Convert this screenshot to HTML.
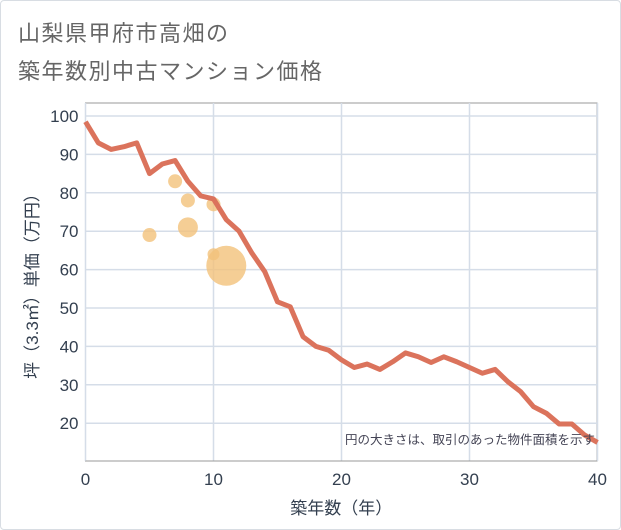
<!DOCTYPE html>
<html><head><meta charset="utf-8"><style>
body{margin:0;background:#fff;}
#wrap{position:relative;width:621px;height:530px;overflow:hidden;font-family:"Liberation Sans","Noto Sans CJK JP",sans-serif;}
#frame{position:absolute;left:0;top:0;width:619px;height:528px;border:1px solid #d8dde3;border-radius:4px;}
.title{position:absolute;left:18px;font-size:22px;color:#666;letter-spacing:1.5px;white-space:nowrap;}
</style></head><body>
<div id="wrap">
<div id="frame"></div>
<div class="title" style="top:16px">山梨県甲府市高畑の</div>
<div class="title" style="top:54px">築年数別中古マンション価格</div>
<svg id="chart" width="621" height="530" style="position:absolute;left:0;top:0"></svg>
</div>
<script>
const lineYears=[0,1,2,3,4,5,6,7,8,9,10,11,12,13,14,15,16,17,18,19,20,21,22,23,24,25,26,27,28,29,30,31,32,33,34,35,36,37,38,39,40];
const linePrices=[98.5,93,91.3,92,93,85,87.5,88.4,83,79.2,78.4,73,70,64.3,59.5,51.6,50.3,42.5,40,39,36.5,34.5,35.4,34,36,38.3,37.3,35.8,37.3,36,34.5,33,34,30.8,28.2,24.3,22.6,19.8,19.8,16.9,15];
const bubbleYears=[5,7,8,8,10,10,11];
const bubblePrices=[69,83,78,71,77,64,61];
const bubbleRadii=[7,7,7,10,7,6,20];
const xTicks=[0,10,20,30,40];
const yTicks=[20,30,40,50,60,70,80,90,100];
const L=85.5,R=597,T=103,B=461;
const X=v=>L+v*12.8;
const Y=v=>116+(100-v)*3.84;
const svg=document.getElementById('chart');
const NS='http://www.w3.org/2000/svg';
function mk(t,a){const e=document.createElementNS(NS,t);for(const k in a)e.setAttribute(k,a[k]);svg.appendChild(e);return e;}
let bg=mk('rect',{x:L,y:T,width:R-L,height:B-T,fill:'#fff',stroke:'#999','stroke-width':1});


yTicks.forEach(v=>{
 const g=mk('line',{x1:L,x2:R,y1:Y(v),y2:Y(v),stroke:'#d5dde8','stroke-width':1.5});
 
 
 const t=mk('text',{x:L-7,y:Y(v)+6,'text-anchor':'end','font-size':17,fill:'#333f4f'});
 t.textContent=v;
 
 
});
xTicks.forEach(v=>{
 const g=mk('line',{x1:X(v),x2:X(v),y1:T,y2:B,stroke:'#d5dde8','stroke-width':1.5});
 
 
 const t=mk('text',{x:X(v),y:B+24,'text-anchor':'middle','font-size':17,fill:'#333f4f'});
 t.textContent=v;
 
 
});
let ax=mk('line',{x1:L,x2:R,y1:B,y2:B,stroke:'#999','stroke-width':1});


bubbleYears.forEach((v,i)=>{
 const c=mk('circle',{cx:X(v),cy:Y(bubblePrices[i]),r:bubbleRadii[i],fill:'#f3c27a','fill-opacity':0.8});
 
 
});
const pl=mk('polyline',{points:lineYears.map((v,i)=>X(v)+','+Y(linePrices[i])).join(' '),fill:'none',stroke:'#db735c','stroke-width':5,'stroke-linejoin':'round'});


const note=mk('text',{x:R-2,y:444,'text-anchor':'end','font-size':12.5,fill:'#445'});
note.textContent='円の大きさは、取引のあった物件面積を示す';


const xt=mk('text',{x:(L+R)/2,y:514,'text-anchor':'middle','font-size':17,fill:'#333f4f'});
xt.textContent='築年数（年）';


const yt=mk('text',{x:0,y:0,'text-anchor':'middle','font-size':17,fill:'#333f4f',transform:'translate(38,'+((T+B)/2)+') rotate(-90)'});
yt.textContent='坪（3.3㎡）単価（万円）';


</script>
</body></html>
